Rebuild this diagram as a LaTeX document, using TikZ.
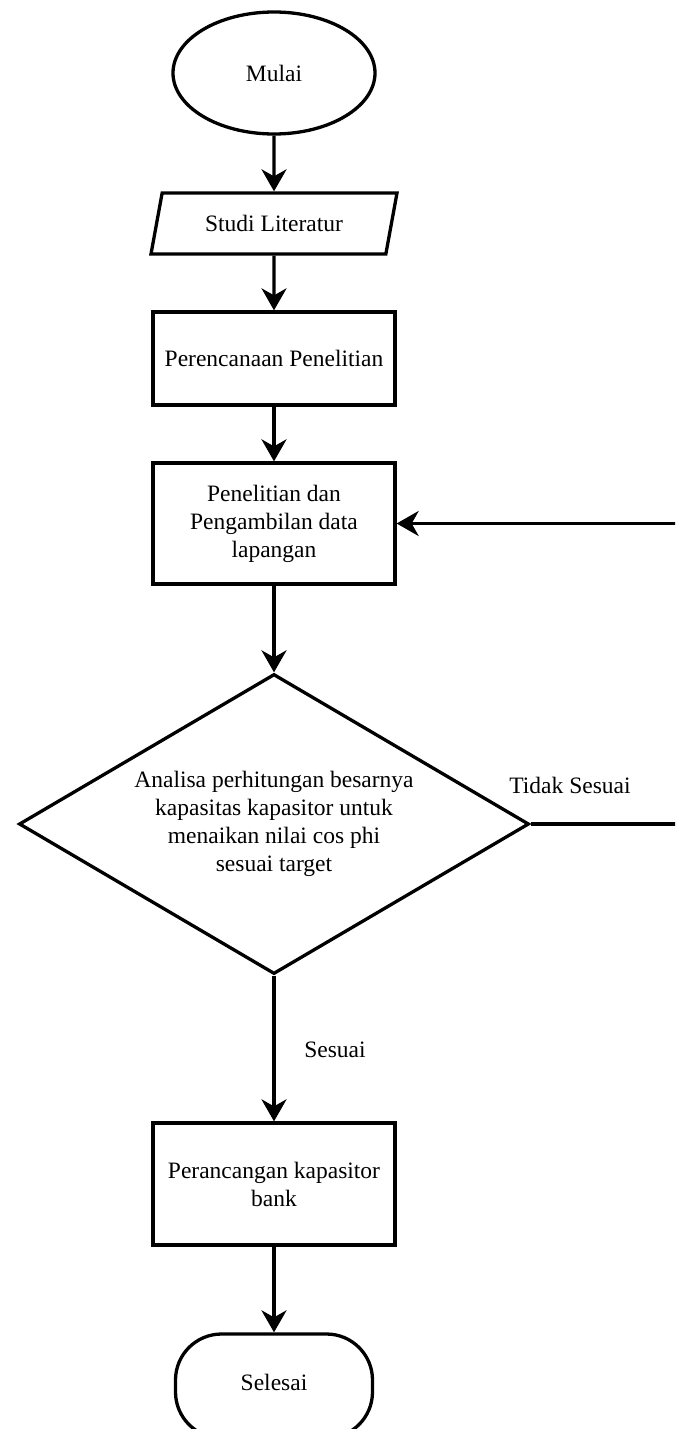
\documentclass[tikz,border=0pt]{standalone}
\usepackage{fontspec}
\setmainfont{Liberation Serif}
\usetikzlibrary{arrows.meta,shapes.geometric}
\tikzset{box/.style={draw,line width=3.3pt,align=center,inner sep=0pt,minimum width=242pt},
term/.style={draw,line width=3.3pt,ellipse,inner sep=0pt,minimum width=202pt,minimum height=122pt},
io/.style={draw,line width=3.3pt,trapezium,trapezium left angle=56,trapezium right angle=124,trapezium stretches body,inner sep=0pt,minimum width=246pt,minimum height=61pt},
decision/.style={draw,line width=3.3pt,diamond,aspect=1.7,align=center,inner sep=0pt,minimum width=510pt,minimum height=300pt},
arr/.style={-{Stealth[length=22pt,width=25pt,inset=7pt]},line width=3.3pt},lbl/.style={inner sep=0pt}}

\begin{document}
\begin{tikzpicture}[x=1pt,y=-1pt,font=\fontsize{23.5}{28}\selectfont]
\clip(0,0)rectangle(675,1429);
\node[term](start)at(274,73){Mulai};
\node[io](studi)at(274,223.5){Studi Literatur};
\node[box,minimum height=93pt](plan)at(274,358.5){Perencanaan Penelitian};
\node[box,minimum height=121pt](survey)at(274,523.5){Penelitian dan\\Pengambilan data\\lapangan};
\node[decision](analysis)at(274,824){Analisa perhitungan besarnya\\kapasitas kapasitor untuk\\menaikan nilai cos phi\\sesuai target};
\node[box,minimum height=122pt](design)at(274,1184){Perancangan kapasitor\\bank};
\node[draw,line width=3.3pt,rounded corners=46pt,minimum width=197pt,minimum height=104pt](finish)at(274,1386){\raisebox{8pt}{Selesai}};
\node[lbl](no)at(570,785){Tidak Sesuai};
\node[lbl](yes)at(335,1050){Sesuai};
\coordinate(back)at(690,824);
\foreach\a/\b in{start/studi,studi/plan,plan/survey,survey/analysis,analysis/design,design/finish}\draw[arr](\a)--(\b);
\draw[arr](analysis.east)--(back)|-(survey.east);
\end{tikzpicture}
\end{document}
